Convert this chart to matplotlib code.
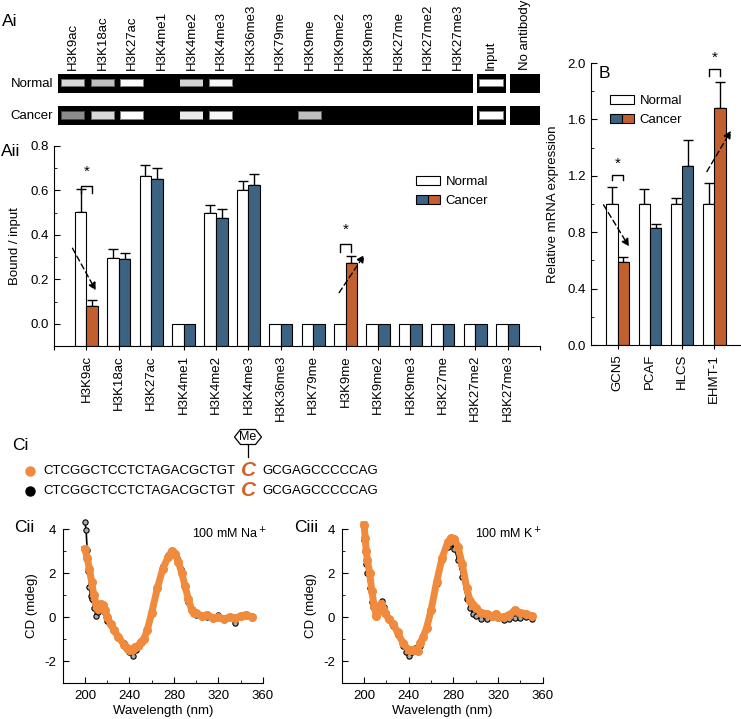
import numpy as np
import matplotlib
matplotlib.use("Agg")
import matplotlib.pyplot as plt
from matplotlib.patches import Patch, Polygon
from matplotlib.legend_handler import HandlerTuple
from matplotlib.ticker import FormatStrFormatter, MultipleLocator

plt.rcParams['font.family'] = ['Liberation Sans', 'DejaVu Sans']
plt.rcParams['axes.unicode_minus'] = False
plt.rcParams['font.size'] = 9.5

# ---- data ----
marks = ['H3K9ac', 'H3K18ac', 'H3K27ac', 'H3K4me1', 'H3K4me2', 'H3K4me3', 'H3K36me3',
         'H3K79me', 'H3K9me', 'H3K9me2', 'H3K9me3', 'H3K27me', 'H3K27me2', 'H3K27me3']
gel_normal = [0.85, 0.75, 1.0, 0, 0.82, 0.97, 0, 0, 0, 0, 0, 0, 0, 0]
gel_cancer = [0.55, 0.85, 1.0, 0, 0.92, 0.97, 0, 0, 0.75, 0, 0, 0, 0, 0]
gel_input = [1.0, 1.0]
gel_noab = [0.0, 0.0]

chip_normal = [0.505, 0.295, 0.665, 0, 0.50, 0.60, 0, 0, 0, 0, 0, 0, 0, 0]
chip_normal_err = [0.10, 0.04, 0.05, 0, 0.035, 0.042, 0, 0, 0, 0, 0, 0, 0, 0]
chip_cancer = [0.08, 0.29, 0.65, 0, 0.475, 0.625, 0, 0, 0.272, 0, 0, 0, 0, 0]
chip_cancer_err = [0.027, 0.03, 0.05, 0, 0.04, 0.05, 0, 0, 0.035, 0, 0, 0, 0, 0]
chip_changed = [0, 8]

genes = ['GCN5', 'PCAF', 'HLCS', 'EHMT-1']
mrna_normal = [1.0, 1.0, 1.0, 1.0]
mrna_normal_err = [0.12, 0.105, 0.04, 0.148]
mrna_cancer = [0.587, 0.828, 1.271, 1.68]
mrna_cancer_err = [0.04, 0.031, 0.18, 0.187]
mrna_changed = [0, 3]

seq_left = 'CTCGGCTCCTCTAGACGCTGT'
seq_site = 'C'
seq_right = 'GCGAGCCCCCAG'

na_wl = [200, 201, 202, 203, 204, 205, 206, 208, 210, 212, 215, 218, 220, 225, 230, 235, 240,
         243, 246, 250, 253, 256, 260, 265, 270, 275, 278, 280, 283, 286, 290, 293, 296, 300,
         305, 310, 315, 320, 325, 330, 335, 340, 345, 350]
na_black = [4.3, 3.97, 3.05, 2.1, 1.35, 0.97, 0.8, 0.43, 0.05, 0.25, 0.5, 0.2, -0.2, -0.5,
            -0.9, -1.2, -1.6, -1.75, -1.5, -1.2, -0.9, -0.5, 0.3, 1.4, 2.3, 2.8, 3.0, 2.95,
            2.7, 2.2, 1.3, 0.7, 0.3, 0.1, 0.0, 0.0, -0.05, 0.1, -0.1, 0.0, -0.25, 0.05, 0.1, 0.0]
na_orange_wl = [200, 202, 204, 206, 208, 210, 212, 214, 216, 218, 220, 223, 226, 230, 235, 238,
                240, 242, 245, 248, 250, 253, 256, 260, 265, 270, 275, 278, 281, 284, 287, 290,
                293, 296, 298, 300, 305, 310, 315, 320, 325, 330, 335, 340, 345, 350]
na_orange = [3.1, 2.7, 2.2, 1.6, 1.0, 0.6, 0.35, 0.6, 0.55, 0.3, 0.0, -0.3, -0.6, -0.9, -1.25,
             -1.4, -1.5, -1.5, -1.35, -1.3, -1.15, -1.0, -0.6, 0.2, 1.3, 2.2, 2.75, 3.0, 2.85,
             2.5, 2.0, 1.4, 0.8, 0.3, 0.2, 0.2, 0.05, 0.1, -0.05, 0.0, -0.1, 0.0, -0.05, 0.05,
             0.1, 0.0]
k_wl = [200, 201, 202, 203, 205, 207, 208, 210, 212, 214, 216, 218, 220, 223, 226, 230, 235,
        238, 240, 243, 246, 250, 253, 256, 260, 265, 270, 275, 278, 281, 284, 288, 292, 295,
        298, 300, 305, 310, 315, 320, 325, 330, 335, 340, 345, 350]
k_black = [3.5, 3.0, 2.4, 2.0, 1.3, 0.7, 0.45, 0.4, 0.35, 0.55, 0.75, 0.45, 0.2, -0.1, -0.4,
           -0.8, -1.3, -1.6, -1.75, -1.6, -1.4, -1.3, -0.9, -0.5, 0.3, 1.5, 2.6, 3.2, 3.35, 3.1,
           2.6, 1.8, 0.8, 0.4, 0.15, 0.05, -0.1, -0.1, 0.0, -0.05, -0.15, -0.1, -0.05, -0.05,
           0.0, -0.1]
k_orange_wl = [200, 201, 202, 203, 205, 207, 209, 211, 213, 215, 217, 219, 222, 226, 230, 235,
               240, 243, 246, 248, 250, 253, 256, 260, 265, 270, 275, 278, 281, 284, 288, 292,
               295, 298, 300, 305, 310, 315, 318, 320, 325, 330, 335, 340, 345, 350]
k_orange = [4.2, 3.6, 3.0, 2.6, 2.0, 1.2, 0.5, 0.05, 0.3, 0.6, 0.35, 0.2, -0.1, -0.3, -0.7,
            -1.2, -1.5, -1.5, -1.5, -1.55, -1.2, -0.9, -0.5, 0.3, 1.6, 2.7, 3.4, 3.6, 3.55, 3.2,
            2.4, 1.3, 0.75, 0.55, 0.4, 0.2, 0.15, 0.05, 0.15, 0.0, 0.0, 0.1, 0.3, 0.2, 0.15, 0.05]

BLUE = '#3c6382'
RUST = '#c1602e'
ORANGE = '#f08a3c'

W, H = 741, 719
fig = plt.figure(figsize=(W / 100, H / 100), dpi=100)


def box(l, t, r, b):
    return [l / W, 1 - b / H, (r - l) / W, (b - t) / H]


def ftext(x, y, s, **kw):
    fig.text(x / W, 1 - y / H, s, **kw)


# ---- Ai: gel strips ----
def gel(rect, vals, width):
    ax = fig.add_axes(rect)
    ax.set_facecolor('black')
    n = len(vals)
    ax.set_xlim(-0.5, n - 0.5)
    ax.set_ylim(0, 1)
    lanes = np.arange(n)
    v = np.array(vals)
    ax.bar(lanes, 0.44, bottom=0.28, width=width + 0.06, color=[(g * 0.5,) * 3 for g in v])
    ax.bar(lanes, 0.32, bottom=0.34, width=width, color=[(g,) * 3 for g in v])
    ax.set_xticks([])
    ax.set_yticks([])
    for s in ax.spines.values():
        s.set_visible(False)
    return ax


gel(box(58.3, 74, 472.7, 92.7), gel_normal, 0.75)
gel(box(58.3, 106, 472.7, 125), gel_cancer, 0.75)
gel(box(476.7, 74, 506, 92.7), gel_input[:1], 0.8)
gel(box(476.7, 106, 506, 125), gel_input[1:], 0.8)
gel(box(510, 74, 540, 92.7), gel_noab[:1], 0.8)
gel(box(510, 106, 540, 125), gel_noab[1:], 0.8)

lane_w = (472.7 - 58.3) / len(marks)
for i, m in enumerate(marks):
    ftext(58.3 + lane_w * (i + 0.5), 70, m, rotation=90, ha='center', va='bottom')
ftext(491, 70, 'Input', rotation=90, ha='center', va='bottom')
ftext(525, 70, 'No antibody', rotation=90, ha='center', va='bottom')
ftext(53, 84, 'Normal', ha='right', va='center')
ftext(53, 116, 'Cancer', ha='right', va='center')
ftext(2, 22, 'Ai', fontsize=12.5, ha='left', va='center')


def dashed_arrow(ax, start, tip):
    ax.annotate('', xy=tip, xytext=start,
                arrowprops=dict(arrowstyle='-|>', linestyle=(0, (4, 2.5)), color='k',
                                lw=1.0, mutation_scale=11, shrinkA=0, shrinkB=0))


def bracket(ax, x0, x1, leg, top, star_y):
    ax.plot([x0, x0, x1, x1], [leg, top, top, leg], color='k', lw=1.0, clip_on=False)
    ax.text((x0 + x1) / 2, star_y, '*', ha='center', va='center', fontsize=11, clip_on=False)


def grouped_bars(ax, nvals, nerr, cvals, cerr, changed, bw, base):
    # bars rise from the bottom of the axis, as in the original figure
    x = np.arange(len(nvals))
    nvals = np.array(nvals)
    cvals = np.array(cvals)
    ccol = [RUST if i in changed else BLUE for i in range(len(cvals))]
    ax.bar(x - bw / 2, nvals - base, bw, bottom=base, color='white', edgecolor='k', lw=0.8, zorder=2)
    ax.bar(x + bw / 2, cvals - base, bw, bottom=base, color=ccol, edgecolor='k', lw=0.8, zorder=2)
    for xi, v, e in zip(x - bw / 2, nvals, nerr):
        if e > 0:
            ax.errorbar(xi, v, yerr=[[0], [e]], color='k', lw=1, capsize=3.5, capthick=1, zorder=1)
    for xi, v, e in zip(x + bw / 2, cvals, cerr):
        if e > 0:
            ax.errorbar(xi, v, yerr=[[0], [e]], color='k', lw=1, capsize=3.5, capthick=1, zorder=1)
    return x


def style_bar_axes(ax):
    ax.spines['top'].set_visible(False)
    ax.spines['right'].set_visible(False)
    ax.tick_params(axis='y', which='major', direction='in', length=4.5, labelsize=9.5)
    ax.tick_params(axis='y', which='minor', direction='in', length=2.5)
    ax.tick_params(axis='x', direction='out', length=3, labelsize=9.5)


def split_legend(ax, anchor):
    h_norm = Patch(facecolor='white', edgecolor='k', lw=0.8)
    h_canc = (Patch(facecolor=BLUE, edgecolor='k', lw=0.8), Patch(facecolor=RUST, edgecolor='k', lw=0.8))
    ax.legend([h_norm, h_canc], ['Normal', 'Cancer'], loc='upper left',
              bbox_to_anchor=anchor, bbox_transform=fig.transFigure, frameon=False,
              handler_map={tuple: HandlerTuple(ndivide=None, pad=0)},
              handlelength=1.8, handleheight=0.65, handletextpad=0.45, labelspacing=0.55,
              borderpad=0, borderaxespad=0, fontsize=9.5)


# ---- Aii: ChIP ----
ax = fig.add_axes(box(54, 146, 540, 346))
bw = 0.36
x = grouped_bars(ax, chip_normal, chip_normal_err, chip_cancer, chip_cancer_err, chip_changed, bw, -0.1)
ax.set_xlim(-1, 14)
ax.set_ylim(-0.1, 0.8)
ax.set_yticks(np.arange(0, 0.81, 0.2))
ax.yaxis.set_minor_locator(MultipleLocator(0.1))
ax.yaxis.set_major_formatter(FormatStrFormatter('%.1f'))
ax.set_xticks(np.arange(-1, 15))
ax.set_xticklabels([''] + marks + [''], rotation=90)
style_bar_axes(ax)
ax.set_ylabel('Bound / input', fontsize=9.5, labelpad=7)
bracket(ax, -bw / 2, bw / 2, 0.59, 0.62, 0.685)
bracket(ax, 8 - bw / 2, 8 + bw / 2, 0.325, 0.36, 0.425)
dashed_arrow(ax, (-0.43, 0.34), (0.29, 0.15))
dashed_arrow(ax, (7.8, 0.14), (8.58, 0.31))
split_legend(ax, (416 / W, 1 - 176 / H))
ftext(1, 151, 'Aii', fontsize=12.5, ha='left', va='center')

# ---- B: mRNA ----
axb = fig.add_axes(box(591, 63, 741, 345))
bw = 0.35
grouped_bars(axb, mrna_normal, mrna_normal_err, mrna_cancer, mrna_cancer_err, mrna_changed, bw, 0.0)
axb.set_xlim(-0.83, 3.83)
axb.set_ylim(0, 2.0)
axb.set_yticks(np.arange(0, 2.01, 0.4))
axb.yaxis.set_minor_locator(MultipleLocator(0.2))
axb.yaxis.set_major_formatter(FormatStrFormatter('%.1f'))
axb.set_xticks(np.arange(len(genes)))
axb.set_xticklabels(genes, rotation=90)
style_bar_axes(axb)
axb.set_ylabel('Relative mRNA expression', fontsize=9.5, labelpad=6)
bracket(axb, -bw / 2, bw / 2, 1.167, 1.205, 1.285)
bracket(axb, 3 - bw / 2, 3 + bw / 2, 1.91, 1.957, 2.035)
dashed_arrow(axb, (-0.44, 0.994), (0.35, 0.698))
dashed_arrow(axb, (2.77, 1.23), (3.52, 1.52))
split_legend(axb, (610 / W, 1 - 95 / H))
ftext(599, 73, 'B', fontsize=12.5, ha='left', va='center')

# ---- Ci: sequences ----
ftext(12, 445, 'Ci', fontsize=12.5, ha='left', va='center')
for y, dot in [(471, ORANGE), (491, 'black')]:
    fig.lines.append(plt.Line2D([30 / W], [1 - y / H], marker='o', ms=6.5, color=dot,
                                transform=fig.transFigure))
    ftext(43, y, seq_left, ha='left', va='center', fontsize=9.5)
    ftext(249, y - 1, seq_site, ha='center', va='center', fontsize=15, fontweight='bold',
          fontstyle='italic', color='#d0652a')
    ftext(262, y, seq_right, ha='left', va='center', fontsize=9.5)
hx, hy, hw, hh = 248, 437, 13.5, 7.5
hexagon = Polygon([((hx - hw) / W, 1 - hy / H), ((hx - hw + 6) / W, 1 - (hy - hh) / H),
                   ((hx + hw - 6) / W, 1 - (hy - hh) / H), ((hx + hw) / W, 1 - hy / H),
                   ((hx + hw - 6) / W, 1 - (hy + hh) / H), ((hx - hw + 6) / W, 1 - (hy + hh) / H)],
                  closed=True, fill=False, edgecolor='k', lw=0.9, transform=fig.transFigure)
fig.patches.append(hexagon)
ftext(hx, hy, 'Me', ha='center', va='center', fontsize=9)
fig.lines.append(plt.Line2D([hx / W, hx / W], [1 - (hy + hh) / H, 1 - 457 / H], color='k',
                            lw=0.9, transform=fig.transFigure))


# ---- Cii / Ciii: CD spectra ----
def cd_panel(l, r, bwl, bcd, owl, ocd, label, tag, tag_x):
    axc = fig.add_axes(box(l, 529, r, 683))
    axc.plot(bwl, bcd, '-o', color='k', lw=1.2, ms=3.8, mfc='#aaaaaa', mec='k', mew=0.8,
             clip_on=False)
    axc.plot(owl, ocd, '-o', color=ORANGE, lw=5, ms=5.5, clip_on=False)
    axc.set_xlim(180, 360)
    axc.set_ylim(-3, 4)
    axc.set_xticks([200, 240, 280, 320, 360])
    axc.xaxis.set_minor_locator(MultipleLocator(20))
    axc.set_yticks([-2, 0, 2, 4])
    axc.yaxis.set_minor_locator(MultipleLocator(1))
    axc.spines['top'].set_visible(False)
    axc.spines['right'].set_visible(False)
    axc.tick_params(which='major', direction='in', length=4, labelsize=9.5, pad=5)
    axc.tick_params(which='minor', direction='in', length=2)
    axc.set_xlabel('Wavelength (nm)', fontsize=9.5, labelpad=2)
    axc.set_ylabel('CD (mdeg)', fontsize=9.5, labelpad=4)
    axc.text(0.83, 0.97, label, transform=axc.transAxes, ha='center', va='center', fontsize=9)
    ftext(tag_x, 528, tag, fontsize=12.5, ha='left', va='center')


cd_panel(62.7, 263, na_wl, na_black, na_orange_wl, na_orange, '100 mM Na$^+$', 'Cii', 14)
cd_panel(341.7, 542.7, k_wl, k_black, k_orange_wl, k_orange, '100 mM K$^+$', 'Ciii', 294)

fig.savefig('out.png', dpi=100)
